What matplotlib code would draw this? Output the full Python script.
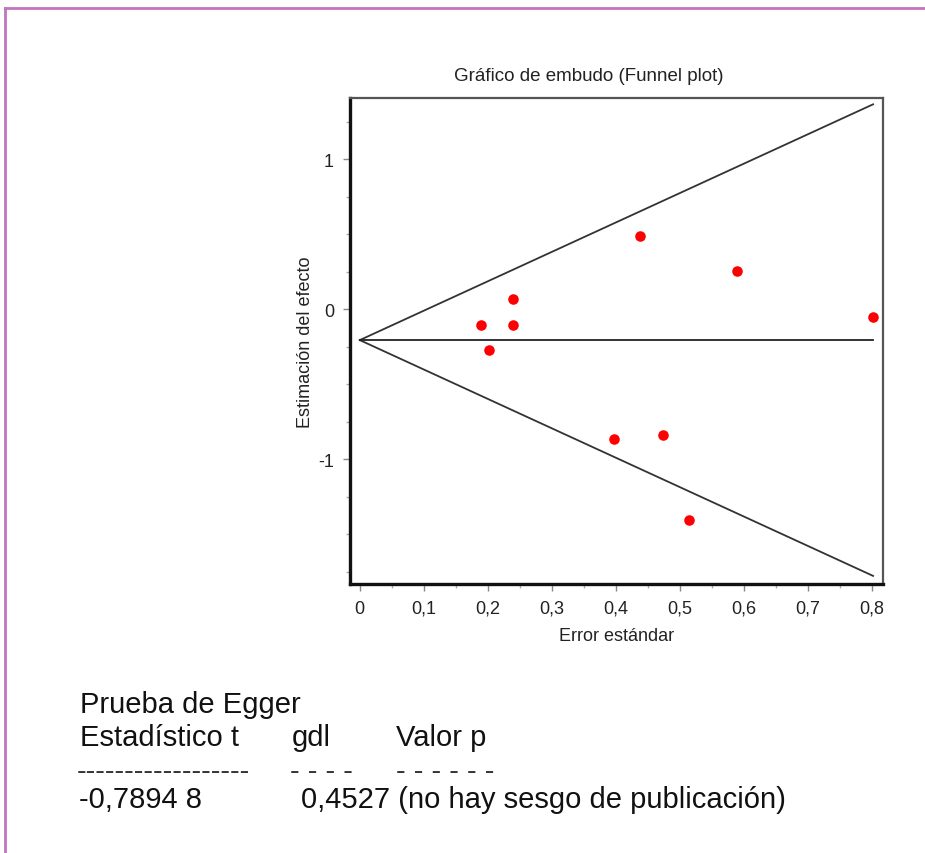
import matplotlib
matplotlib.use("Agg")
import matplotlib.pyplot as plt
from matplotlib.lines import Line2D
from matplotlib.ticker import MultipleLocator, FixedLocator, FixedFormatter
import numpy as np

# ---- data ----
std_error = [0.189, 0.202, 0.239, 0.239, 0.438, 0.590, 0.802, 0.397, 0.474, 0.514]
effect = [-0.107, -0.273, 0.067, -0.107, 0.487, 0.253, -0.053, -0.867, -0.840, -1.407]
pooled_effect = -0.207
z_crit = 1.96
se_max = 0.802
x_ticks = [0, 0.1, 0.2, 0.3, 0.4, 0.5, 0.6, 0.7, 0.8]
x_tick_labels = ["0", "0,1", "0,2", "0,3", "0,4", "0,5", "0,6", "0,7", "0,8"]
y_ticks = [-1, 0, 1]
y_tick_labels = ["-1", "0", "1"]
title = "Gráfico de embudo (Funnel plot)"
xlabel = "Error estándar"
ylabel = "Estimación del efecto"

W, H = 925, 854
fig = plt.figure(figsize=(W / 100, H / 100), dpi=100)
fig.patch.set_facecolor("white")
plt.rcParams["font.family"] = ["Liberation Sans", "DejaVu Sans"]

def fx(px):
    return px / W

def fy(py):
    return 1 - py / H

# axes placement (pixels)
L, R, T, B = 350, 883, 99, 585
ax = fig.add_axes([fx(L), fy(B), fx(R) - fx(L), fy(T) - fy(B)])

ax.set_xlim(-0.0153, 0.8175)
ax.set_ylim(-1.833, 1.407)

# funnel lines
se_line = np.array([0.0, se_max])
ax.plot(se_line, pooled_effect + z_crit * se_line, color="#333333", lw=1.3)
ax.plot(se_line, pooled_effect - z_crit * se_line, color="#333333", lw=1.3)
ax.plot(se_line, [pooled_effect, pooled_effect], color="#222222", lw=1.3)

# points
ax.plot(std_error, effect, "o", color="#ff0000", markersize=7.6, markeredgewidth=0, zorder=5)

# spines
for s in ["left", "bottom"]:
    ax.spines[s].set_linewidth(2.4)
    ax.spines[s].set_color("#111111")
for s in ["top", "right"]:
    ax.spines[s].set_linewidth(1.6)
    ax.spines[s].set_color("#555555")

ax.xaxis.set_major_locator(FixedLocator(x_ticks))
ax.xaxis.set_major_formatter(FixedFormatter(x_tick_labels))
ax.xaxis.set_minor_locator(MultipleLocator(0.05))
ax.yaxis.set_major_locator(FixedLocator(y_ticks))
ax.yaxis.set_major_formatter(FixedFormatter(y_tick_labels))
ax.yaxis.set_minor_locator(MultipleLocator(0.25))

ax.tick_params(axis="both", which="major", direction="out", length=5, width=1,
               color="#888888", labelsize=13, labelcolor="#222222", pad=6.5)
ax.tick_params(axis="both", which="minor", direction="out", length=3, width=1,
               color="#aaaaaa")

ax.set_title(title, fontsize=13.5, color="#222222", pad=13, x=0.447)
ax.set_xlabel(xlabel, fontsize=13, color="#222222", labelpad=7)
ax.set_ylabel(ylabel, fontsize=13, color="#222222", labelpad=3)

# purple frame (top and left edges)
fig.add_artist(Line2D([fx(5), fx(W)], [fy(9), fy(9)], color="#c274bf", lw=2.0))
fig.add_artist(Line2D([fx(5), fx(5)], [fy(9), fy(H)], color="#c274bf", lw=2.0))

# Egger test text
fs = 21
tc = "#111111"
fig.text(fx(80), fy(713), "Prueba de Egger", fontsize=fs, color=tc, va="baseline")
fig.text(fx(80), fy(746), "Estadístico t", fontsize=fs, color=tc, va="baseline")
fig.text(fx(292), fy(746), "gdl", fontsize=fs, color=tc, va="baseline")
fig.text(fx(396), fy(746), "Valor p", fontsize=fs, color=tc, va="baseline")
fig.text(fx(77), fy(780), "------------------", fontsize=fs, color="#333333", va="baseline")
fig.text(fx(290), fy(780), "- - - -", fontsize=fs, color="#333333", va="baseline")
fig.text(fx(396), fy(780), "- - - - - -", fontsize=fs, color="#333333", va="baseline")
fig.text(fx(79), fy(808), "-0,7894 8", fontsize=fs, color=tc, va="baseline")
fig.text(fx(301), fy(808), "0,4527 (no hay sesgo de publicación)", fontsize=fs, color=tc, va="baseline")

fig.savefig("out.png", dpi=100, facecolor="white")
